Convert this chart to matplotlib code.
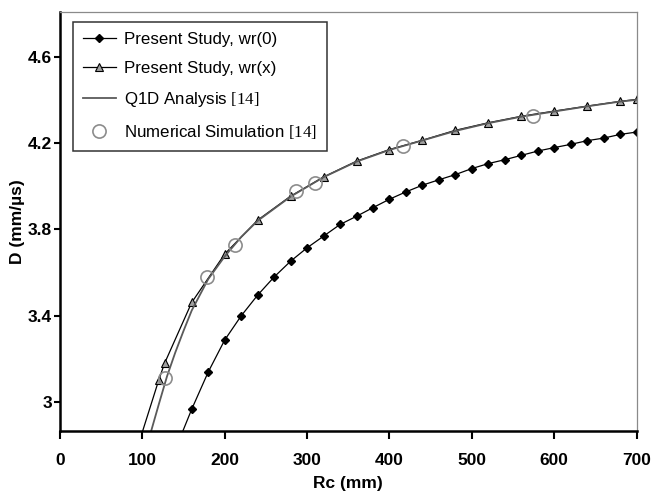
import matplotlib
matplotlib.use("Agg")
import matplotlib.pyplot as plt
from matplotlib.ticker import FuncFormatter

# ---- data -----------------------------------------------------------------
# Present study, wr(0): detonation velocity vs. charge radius
rc_wr0 = [140, 160, 180, 200, 220, 240, 260, 280, 300, 320, 340, 360, 380, 400,
          420, 440, 460, 480, 500, 520, 540, 560, 580, 600, 620, 640, 660, 680, 700]
d_wr0 = [2.78, 2.968, 3.14, 3.288, 3.40, 3.496, 3.58, 3.653, 3.715, 3.769, 3.823,
         3.861, 3.901, 3.94, 3.974, 4.005, 4.03, 4.054, 4.082, 4.105, 4.123, 4.143,
         4.163, 4.179, 4.194, 4.211, 4.223, 4.24, 4.251]

# Present study, wr(x)
rc_wrx = [80, 120, 127, 160, 200, 240, 280, 320, 360, 400, 440, 480, 520, 560,
          600, 640, 680, 700]
d_wrx = [2.62, 3.103, 3.18, 3.462, 3.686, 3.843, 3.954, 4.043, 4.116, 4.17, 4.213,
         4.259, 4.294, 4.324, 4.348, 4.371, 4.393, 4.402]

# Q1D analysis [14]
rc_q1d = [105, 120, 130, 140, 150, 160, 180, 200, 220, 240, 280, 320, 360, 400,
          440, 480, 520, 560, 600, 640, 680, 700]
d_q1d = [2.79, 2.99, 3.12, 3.23, 3.33, 3.425, 3.57, 3.675, 3.765, 3.84, 3.952,
         4.042, 4.114, 4.168, 4.212, 4.256, 4.292, 4.322, 4.346, 4.37, 4.392, 4.40]

# Numerical simulation [14]
rc_sim = [128, 178, 212, 286, 310, 416, 574]
d_sim = [3.114, 3.58, 3.73, 3.977, 4.015, 4.186, 4.324]

x_ticks = [0, 100, 200, 300, 400, 500, 600, 700]
y_ticks = [3.0, 3.4, 3.8, 4.2, 4.6]

series_labels = ["Present Study, wr(0)", "Present Study, wr(x)",
                 r"Q1D Analysis $\mathrm{[14]}$",
                 r"Numerical Simulation $\mathrm{[14]}$"]

# ---- style ----------------------------------------------------------------
plt.rcParams["font.family"] = ["Liberation Sans", "DejaVu Sans"]
plt.rcParams["mathtext.fontset"] = "custom"
plt.rcParams["mathtext.rm"] = "Liberation Serif"

fig = plt.figure(figsize=(6.53, 4.94), dpi=100)
ax = fig.add_axes([0.0917, 0.1275, 0.8833, 0.8488])

ax.plot(rc_wr0, d_wr0, color="black", lw=0.9, marker="D", ms=4.0,
        mfc="black", mec="black", label=series_labels[0])
ax.plot(rc_wrx, d_wrx, color="black", lw=0.9, marker="^", ms=5.5,
        mfc="#a0a0a0", mec="black", mew=0.8, label=series_labels[1])
ax.plot(rc_q1d, d_q1d, color="#5a5a5a", lw=1.3, label=series_labels[2])
ax.plot(rc_sim, d_sim, ls="none", marker="o", ms=9.5, mfc="none",
        mec="#8c8c8c", mew=1.2, label=series_labels[3])

ax.set_xlim(0, 700)
ax.set_ylim(2.867, 4.808)
ax.set_xticks(x_ticks)
ax.set_yticks(y_ticks)
ax.yaxis.set_major_formatter(FuncFormatter(lambda v, p: f"{v:g}"))

for side in ("left", "bottom"):
    ax.spines[side].set_linewidth(1.8)
    ax.spines[side].set_color("black")
for side in ("top", "right"):
    ax.spines[side].set_linewidth(0.9)
    ax.spines[side].set_color("#8a8a8a")

ax.tick_params(axis="x", direction="out", length=5.5, width=1.5, pad=10,
               labelsize=12.5)
ax.tick_params(axis="y", direction="out", length=4.5, width=1.5, pad=1,
               labelsize=12.5)
for lab in ax.get_xticklabels() + ax.get_yticklabels():
    lab.set_fontweight("bold")

ax.set_xlabel("Rc (mm)", fontsize=12.5, fontweight="bold", labelpad=6)
ax.set_ylabel("D (mm/\u00b5s)", fontsize=12.5, fontweight="bold", labelpad=2)

leg = ax.legend(loc="upper left", bbox_to_anchor=(0.023, 0.975),
                borderaxespad=0, fancybox=False, frameon=True,
                edgecolor="black", handlelength=1.9,
                handletextpad=0.5, labelspacing=0.82, borderpad=0.6,
                fontsize=12.2)
leg.get_frame().set_linewidth(1.1)

fig.savefig("out.png", dpi=100, facecolor="white")
